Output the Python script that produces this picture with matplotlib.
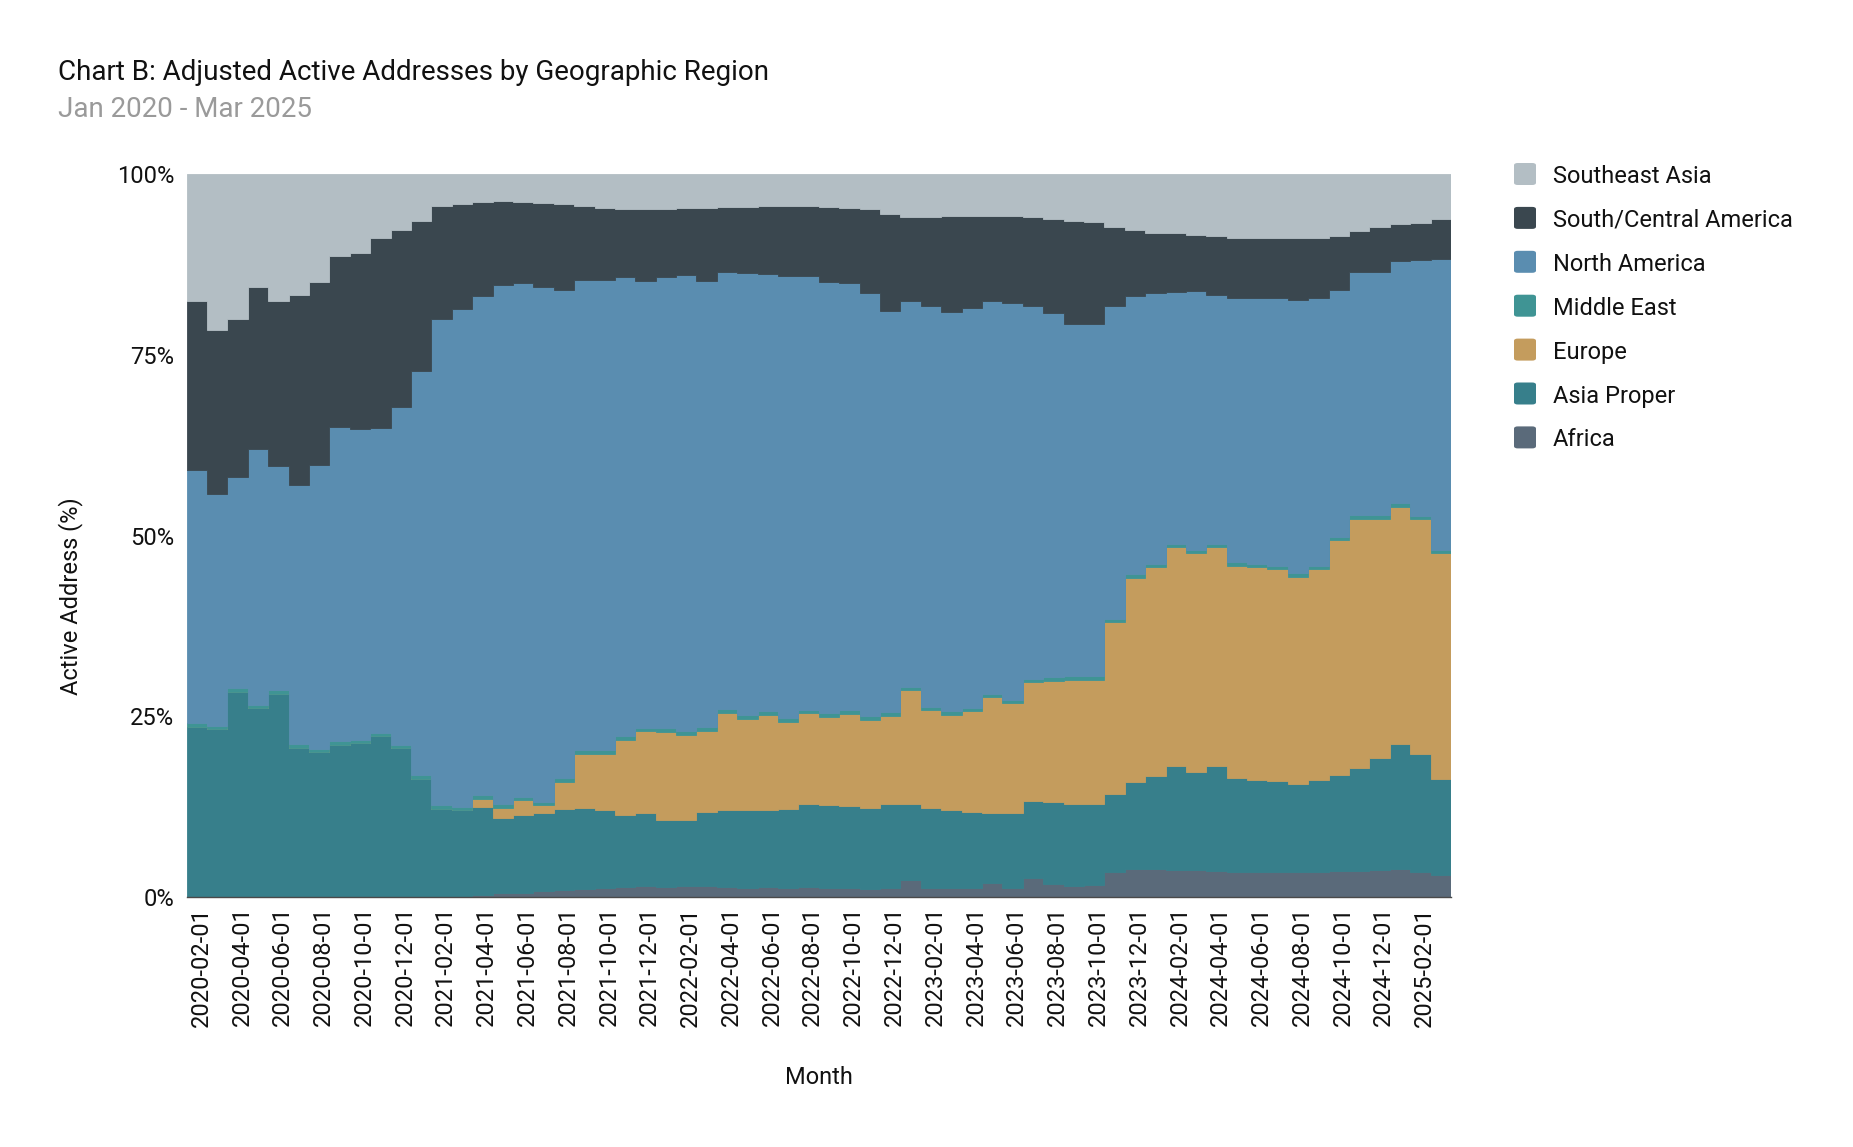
import numpy as np
import matplotlib
matplotlib.use("Agg")
import matplotlib.pyplot as plt
import matplotlib.transforms as mtransforms
from matplotlib.patches import FancyBboxPatch

# ---------------- data (share of active addresses, %) ----------------
years_months = [(2020 + (i // 12), i % 12 + 1) for i in range(62)]  # Jan 2020 .. Feb 2025
month_labels = [f"{y}-{m:02d}-01" for y, m in years_months]

africa = [0, 0, 0, 0, 0, 0, 0, 0, 0, 0, 0, 0, 0, 0,
          0.3, 0.5, 0.6, 0.8, 0.9, 1.1, 1.3, 1.4, 1.5, 1.4, 1.5, 1.5, 1.4, 1.3, 1.4, 1.3,
          1.4, 1.3, 1.2, 1.1, 1.2, 2.3, 1.3, 1.2, 1.2, 2.0, 1.2, 2.6, 1.8, 1.5, 1.6, 3.4,
          3.9, 3.9, 3.8, 3.7, 3.6, 3.5, 3.5, 3.5, 3.4, 3.4, 3.6, 3.6, 3.8, 3.9, 3.5, 3.1]

asia_proper = [23.5, 23.2, 28.4, 26.1, 28.1, 20.6, 20.0, 21.1, 21.3, 22.2, 20.6, 16.4, 12.2, 12.0,
               12.2, 10.4, 10.8, 10.8, 11.3, 11.2, 10.7, 10.0, 10.1, 9.3, 9.2, 10.3, 10.6, 10.7,
               10.7, 10.9, 11.5, 11.4, 11.4, 11.2, 11.7, 10.6, 11.0, 10.8, 10.5, 9.6, 10.4, 10.7,
               11.3, 11.4, 11.3, 10.9, 12.0, 12.9, 14.3, 13.6, 14.5, 12.9, 12.7, 12.5, 12.2, 12.8,
               13.3, 14.3, 15.4, 17.2, 16.3, 13.3]

europe = [0, 0, 0, 0, 0, 0, 0, 0, 0, 0, 0, 0, 0, 0,
          1.1, 1.4, 2.0, 1.1, 3.7, 7.5, 7.8, 10.4, 11.3, 12.2, 11.7, 11.2, 13.5, 12.7, 13.1,
          12.0, 12.5, 12.2, 12.7, 12.2, 12.1, 15.7, 13.5, 13.2, 14.0, 16.0, 15.2, 16.4, 16.8,
          17.1, 17.1, 23.7, 28.3, 28.8, 30.3, 30.2, 30.3, 29.4, 29.4, 29.3, 28.7, 29.1, 32.5,
          34.4, 33.1, 32.9, 32.5, 31.2]

middle_east = [0.5] * 62

north_america = [35.1, 32.1, 29.2, 35.4, 31.0, 35.9, 39.3, 43.5, 43.0, 42.2, 46.8, 55.9, 67.3, 68.8,
                 69.0, 71.9, 71.1, 71.3, 67.5, 65.1, 65.1, 63.6, 61.8, 62.5, 63.1, 61.6, 60.5, 61.2,
                 60.4, 61.2, 60.0, 59.6, 59.1, 58.6, 55.5, 53.4, 55.5, 55.2, 55.3, 54.4, 54.9, 51.6,
                 50.5, 48.7, 48.7, 43.3, 38.5, 37.4, 34.9, 35.7, 34.4, 36.5, 36.7, 37.0, 37.8, 37.0,
                 34.1, 33.6, 33.7, 33.5, 35.4, 40.3]

south_central_america = [23.4, 22.6, 21.8, 22.4, 22.9, 26.2, 25.3, 23.6, 24.4, 26.3, 24.4, 20.8, 15.6,
                         14.5, 13.0, 11.5, 11.2, 11.6, 11.9, 10.2, 9.9, 9.4, 10.0, 9.4, 9.2, 10.1, 9.0,
                         9.2, 9.5, 9.7, 9.7, 10.5, 10.4, 11.5, 13.4, 11.5, 12.2, 13.3, 12.7, 11.7, 12.0,
                         12.2, 13.0, 14.3, 14.2, 10.9, 9.1, 8.4, 8.1, 7.8, 8.2, 8.4, 8.3, 8.3, 8.6, 8.4,
                         7.5, 5.7, 6.2, 5.1, 5.1, 5.5]

southeast_asia = [17.5, 21.6, 20.1, 15.6, 17.5, 16.8, 14.9, 11.4, 10.9, 8.8, 7.8, 6.5, 4.4, 4.2, 3.9,
                  3.8, 3.9, 4.0, 4.2, 4.4, 4.7, 4.8, 4.8, 4.8, 4.7, 4.7, 4.5, 4.5, 4.4, 4.4, 4.4, 4.5,
                  4.7, 4.9, 5.5, 6.0, 6.0, 5.8, 5.8, 5.8, 5.8, 6.0, 6.2, 6.5, 6.6, 7.3, 7.8, 8.1, 8.2,
                  8.4, 8.6, 8.8, 8.9, 8.9, 8.8, 8.8, 8.6, 7.9, 7.3, 6.9, 6.8, 6.2]

regions = ["Africa", "Asia Proper", "Europe", "Middle East", "North America",
           "South/Central America", "Southeast Asia"]
series = [africa, asia_proper, europe, middle_east, north_america,
          south_central_america, southeast_asia]
colors = ["#5a6a7a", "#377f8b", "#c49c5d", "#3f9494", "#5a8db0", "#3a474f", "#b3bec4"]

# ---------------- figure ----------------
W, H, DPI = 1853, 1147, 100
fig = plt.figure(figsize=(W / DPI, H / DPI), dpi=DPI)
plt.rcParams["font.family"] = ["Roboto", "DejaVu Sans"]

left, right, top, bottom = 186.7, 1451, 174, 897
ax = fig.add_axes([left / W, 1 - bottom / H, (right - left) / W, (bottom - top) / H])

vals = np.array(series, dtype=float)
vals = vals / vals.sum(axis=0) * 100.0
edges = np.arange(vals.shape[1] + 1)
cum = np.zeros(vals.shape[1])
for v, c in zip(vals, colors):
    ax.stairs(cum + v, edges, baseline=cum.copy(), fill=True, facecolor=c,
              edgecolor=c, linewidth=0.6)
    cum = cum + v

ax.set_xlim(0, vals.shape[1])
ax.set_ylim(0, 100)
for s in ["top", "right", "left"]:
    ax.spines[s].set_visible(False)
ax.spines["bottom"].set_color("#4a4a4a")
ax.spines["bottom"].set_linewidth(1.0)

ax.set_yticks([0, 25, 50, 75, 100])
ax.set_yticklabels(["0%", "25%", "50%", "75%", "100%"])
tick_pos = list(range(1, vals.shape[1], 2))
ax.set_xticks(tick_pos)
ax.set_xticklabels([month_labels[i] for i in tick_pos], rotation=90, va="top", ha="center")
ax.tick_params(axis="both", length=0, labelsize=17, colors="#111111")
ax.tick_params(axis="y", pad=9)
ax.tick_params(axis="x", pad=7)
offset = mtransforms.ScaledTranslation(-6 / DPI, 0, fig.dpi_scale_trans)
for lab in ax.get_xticklabels():
    lab.set_transform(lab.get_transform() + offset)

# axis titles
fig.text(819 / W, 1 - 1077 / H, "Month", ha="center", va="center", fontsize=17, color="#111111")
fig.text(71 / W, 1 - 596 / H, "Active Address (%)", ha="center", va="center",
         rotation=90, fontsize=17, color="#111111")

# titles
fig.text(58 / W, 1 - 80 / H, "Chart B: Adjusted Active Addresses by Geographic Region",
         ha="left", va="baseline", fontsize=20, color="#111111")
fig.text(58 / W, 1 - 117 / H, "Jan 2020 - Mar 2025",
         ha="left", va="baseline", fontsize=20, color="#9a9a9a")

# legend (top to bottom)
row0, step = 174, 43.9
for i, idx in enumerate(range(len(regions) - 1, -1, -1)):
    yc = row0 + i * step
    sq = 22
    box = FancyBboxPatch(((1514) / W, 1 - (yc + sq / 2) / H), sq / W, sq / H,
                         boxstyle="round,pad=0,rounding_size=0.002",
                         transform=fig.transFigure, facecolor=colors[idx],
                         edgecolor="none")
    fig.patches.append(box)
    fig.text(1553 / W, 1 - yc / H, regions[idx], ha="left", va="center_baseline",
             fontsize=17, color="#111111")

fig.savefig("out.png", dpi=DPI, facecolor="white")
